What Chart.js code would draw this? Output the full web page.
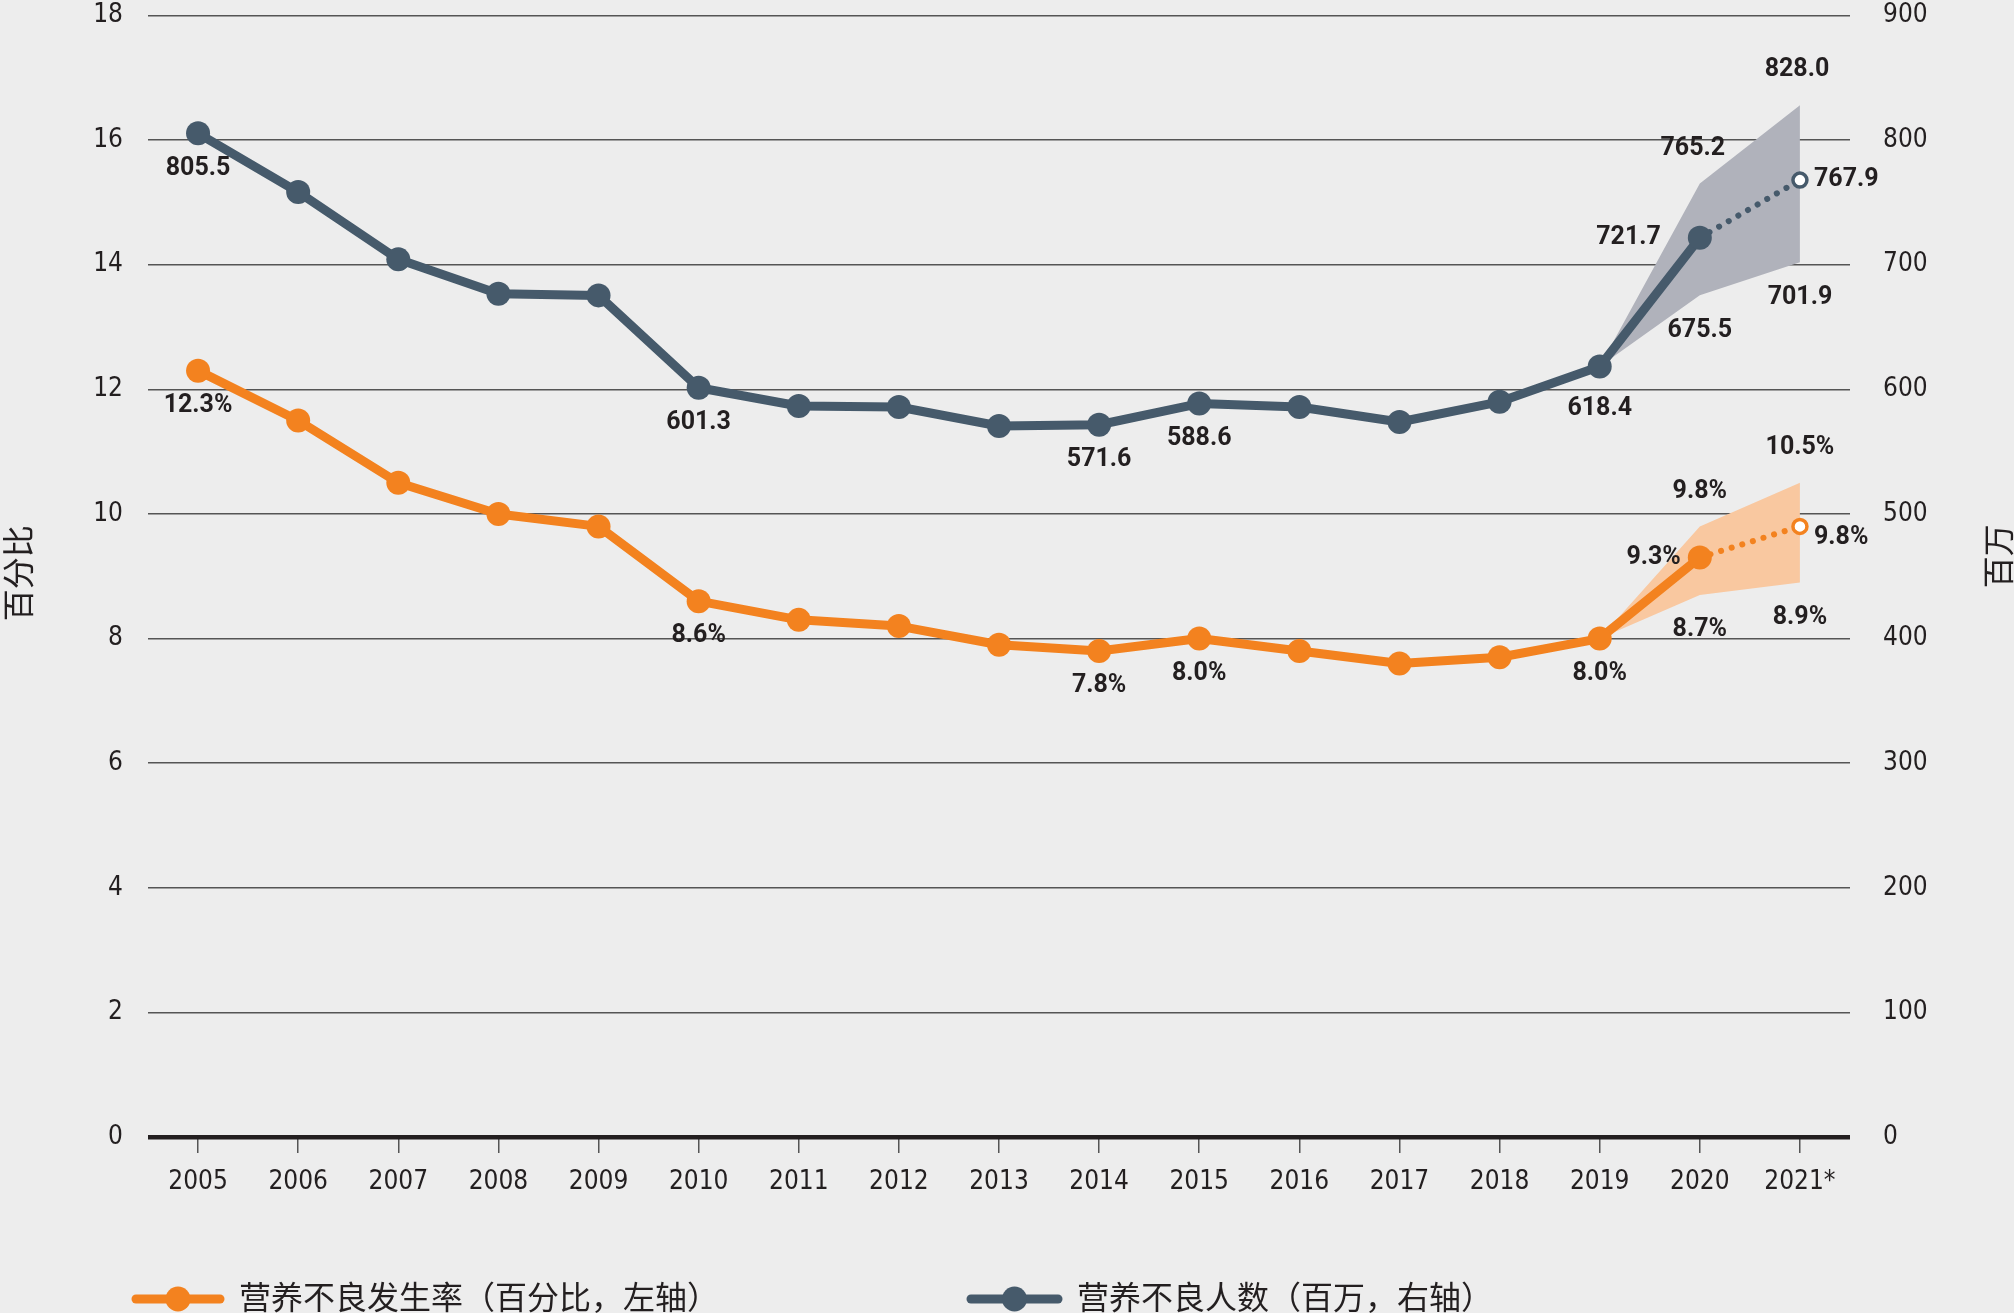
<!DOCTYPE html>
<html lang="zh">
<head>
<meta charset="utf-8">
<title>营养不良发生率与人数</title>
<script src="https://cdn.jsdelivr.net/npm/chart.js@4.4.1/dist/chart.umd.min.js"></script>
<style>
    html, body { margin: 0; padding: 0; background: #ededed; }
    #wrap { position: relative; width: 2014px; height: 1313px; }
</style>
</head>
<body>
<div id="wrap"><canvas id="hungerChart"></canvas></div>
<script>
// Years on the x axis
const years = ['2005', '2006', '2007', '2008', '2009', '2010', '2011', '2012', '2013',
    '2014', '2015', '2016', '2017', '2018', '2019', '2020', '2021*'];

// Prevalence of undernourishment (%), left axis
const rateValues = [12.3, 11.5, 10.5, 10.0, 9.8, 8.6, 8.3, 8.2, 7.9, 7.8, 8.0, 7.8, 7.6, 7.7, 8.0, 9.3, 9.8];

// Number of undernourished people (millions), right axis
const peopleValues = [805.5, 758.3, 704.3, 676.7, 675.4, 601.3, 586.6, 585.8, 570.6, 571.6, 588.6, 585.8, 573.8, 590.0, 618.4, 721.7, 767.9];

// Uncertainty ranges for 2019, 2020, 2021
const rateHigh = [8.0, 9.8, 10.5];
const rateLow = [8.0, 8.7, 8.9];
const peopleHigh = [618.4, 765.2, 828.0];
const peopleLow = [618.4, 675.5, 701.9];

// Axis ranges
const rateMax = 18, rateStep = 2;
const peopleMax = 900, peopleStep = 100;

const legendNames = ['营养不良发生率（百分比，左轴）', '营养不良人数（百万，右轴）'];
const axisTitles = ['百分比', '百万'];

const ORANGE = '#f3821f';
const SLATE = '#465a6b';
const ORANGE_BAND = '#f9c8a0';
const SLATE_BAND = '#b0b2bb';
const INK = '#231f20';

const tickFont = '"Liberation Sans Narrow", "DejaVu Sans Condensed", Roboto, sans-serif';
const labelFont = 'bold 25px Roboto, "Liberation Sans", sans-serif';
const cjkFont = '32px "Noto Sans CJK SC", sans-serif';

// put the range values at the end of a full-length series
function bandSeries(values) {
    const out = years.map(function () { return null; });
    for (let i = 0; i < values.length; i++) {
        out[years.length - values.length + i] = values[i];
    }
    return out;
}

const last = years.length - 1;

function lineDataset(label, data, color, axis) {
    return {
        label: label,
        data: data,
        yAxisID: axis,
        borderColor: color,
        borderWidth: 9,
        borderCapStyle: 'round',
        borderJoinStyle: 'round',
        tension: 0,
        fill: false,
        pointRadius: function (ctx) { return ctx.dataIndex === last ? 7 : 12; },
        pointBackgroundColor: function (ctx) { return ctx.dataIndex === last ? '#ffffff' : color; },
        pointBorderColor: color,
        pointBorderWidth: function (ctx) { return ctx.dataIndex === last ? 3.5 : 0; },
        pointHoverRadius: 12,
        segment: {
            borderDash: function (ctx) { return ctx.p1DataIndex === last ? [0.1, 11] : undefined; },
            borderWidth: function (ctx) { return ctx.p1DataIndex === last ? 6 : undefined; }
        },
        order: 0
    };
}

function bandDataset(data, color, axis, fillTo) {
    return {
        data: data,
        yAxisID: axis,
        backgroundColor: color,
        borderWidth: 0,
        pointRadius: 0,
        pointHoverRadius: 0,
        tension: 0,
        spanGaps: false,
        fill: fillTo,
        order: 5
    };
}

// Which points carry a value label and where it sits
const rateLabels = [
    { i: 0, pos: 'below' }, { i: 5, pos: 'below' }, { i: 9, pos: 'below' },
    { i: 10, pos: 'below' }, { i: 14, pos: 'below' },
    { i: 15, pos: 'left', gap: 19 }, { i: 16, pos: 'right', gap: 14, dy: 11 }
];
const peopleLabels = [
    { i: 0, pos: 'below' }, { i: 5, pos: 'below' }, { i: 9, pos: 'below' },
    { i: 10, pos: 'below' }, { i: 14, pos: 'below', dy: 7 },
    { i: 15, pos: 'left', gap: 39 }, { i: 16, pos: 'right', gap: 14 }
];

function fmtRate(v) { return v.toFixed(1) + '%'; }
function fmtPeople(v) { return v.toFixed(1); }

function drawLabel(ctx, pt, text, spec) {
    const dx = spec.dx || 0, dy = spec.dy || 0, gap = spec.gap || 0;
    let x = pt.x + dx, y = pt.y + dy;
    ctx.textAlign = 'center';
    if (spec.pos === 'below') y += 35;
    if (spec.pos === 'above') y -= 35;
    if (spec.pos === 'left') { ctx.textAlign = 'right'; x -= gap; }
    if (spec.pos === 'right') { ctx.textAlign = 'left'; x += gap; }
    ctx.fillText(text, x, y);
}

const valueLabels = {
    id: 'valueLabels',
    afterDatasetsDraw: function (chart) {
        const ctx = chart.ctx;
        ctx.save();
        ctx.font = labelFont;
        ctx.fillStyle = INK;
        ctx.textBaseline = 'middle';

        const rateMeta = chart.getDatasetMeta(0).data;
        const peopleMeta = chart.getDatasetMeta(1).data;
        rateLabels.forEach(function (s) { drawLabel(ctx, rateMeta[s.i], fmtRate(rateValues[s.i]), s); });
        peopleLabels.forEach(function (s) { drawLabel(ctx, peopleMeta[s.i], fmtPeople(peopleValues[s.i]), s); });

        // range labels for 2020 and 2021
        [last - 1, last].forEach(function (i, k) {
            const j = k + 1;
            drawLabel(ctx, chart.getDatasetMeta(2).data[i], fmtRate(rateHigh[j]), { pos: 'above' });
            drawLabel(ctx, chart.getDatasetMeta(3).data[i], fmtRate(rateLow[j]), { pos: 'below' });
            drawLabel(ctx, chart.getDatasetMeta(4).data[i], fmtPeople(peopleHigh[j]), { pos: 'above', dx: k === 0 ? -7 : -3 });
            drawLabel(ctx, chart.getDatasetMeta(5).data[i], fmtPeople(peopleLow[j]), { pos: 'below' });
        });
        ctx.restore();
    }
};

// Rotated axis titles (both read bottom to top) and the legend row
const decorations = {
    id: 'decorations',
    afterDraw: function (chart) {
        const ctx = chart.ctx;
        const area = chart.chartArea;
        ctx.save();
        ctx.font = cjkFont;
        ctx.fillStyle = INK;
        ctx.textAlign = 'center';
        ctx.textBaseline = 'middle';

        ctx.save();
        ctx.translate(18, (area.top + area.bottom) / 2 - 3);
        ctx.rotate(-Math.PI / 2);
        ctx.fillText(axisTitles[0], 0, 0);
        ctx.restore();

        ctx.save();
        ctx.translate(1998, (area.top + area.bottom) / 2 - 20);
        ctx.rotate(-Math.PI / 2);
        ctx.fillText(axisTitles[1], 0, 0);
        ctx.restore();

        // legend
        const items = [
            { x0: 136, x1: 220, text: legendNames[0], color: ORANGE },
            { x0: 971, x1: 1058, text: legendNames[1], color: SLATE }
        ];
        const ly = 1299;
        items.forEach(function (it) {
            ctx.strokeStyle = it.color;
            ctx.lineWidth = 9;
            ctx.lineCap = 'round';
            ctx.beginPath();
            ctx.moveTo(it.x0, ly);
            ctx.lineTo(it.x1, ly);
            ctx.stroke();
            ctx.fillStyle = it.color;
            ctx.beginPath();
            ctx.arc((it.x0 + it.x1) / 2, ly, 12.5, 0, Math.PI * 2);
            ctx.fill();
            ctx.fillStyle = INK;
            ctx.textAlign = 'left';
            ctx.fillText(it.text, it.x1 + 19, ly - 2);
        });
        ctx.restore();
    }
};

// keep the plot box where the reference has it
function noScalePadding(scale) {
    scale.paddingTop = 0;
    scale.paddingBottom = 0;
    scale.paddingLeft = 0;
    scale.paddingRight = 0;
}

const ctx = document.getElementById('hungerChart').getContext('2d');
const hungerChart = new Chart(ctx, {
    type: 'line',
    data: {
        labels: years,
        datasets: [
            lineDataset(legendNames[0], rateValues, ORANGE, 'y'),
            lineDataset(legendNames[1], peopleValues, SLATE, 'y1'),
            bandDataset(bandSeries(rateHigh), ORANGE_BAND, 'y', '+1'),
            bandDataset(bandSeries(rateLow), ORANGE_BAND, 'y', false),
            bandDataset(bandSeries(peopleHigh), SLATE_BAND, 'y1', '+1'),
            bandDataset(bandSeries(peopleLow), SLATE_BAND, 'y1', false)
        ]
    },
    options: {
        responsive: true,
        maintainAspectRatio: false,
        animation: false,
        layout: { padding: { top: 15, left: 0, right: 0, bottom: 0 } },
        plugins: {
            legend: { display: false },
            tooltip: { enabled: false }
        },
        scales: {
            x: {
                type: 'category',
                offset: true,
                border: { display: false },
                grid: {
                    display: true,
                    drawOnChartArea: false,
                    drawTicks: true,
                    tickLength: 16,
                    color: '#555555',
                    lineWidth: 1.5,
                    offset: false
                },
                ticks: {
                    color: INK,
                    font: { family: tickFont, size: 26 },
                    padding: 14,
                    maxRotation: 0,
                    autoSkip: false
                },
                afterFit: function (scale) { scale.height = 176; noScalePadding(scale); }
            },
            y: {
                position: 'left',
                min: 0,
                max: rateMax,
                border: { display: false },
                grid: {
                    drawTicks: false,
                    color: function (c) { return c.tick && c.tick.value === 0 ? INK : '#555555'; },
                    lineWidth: function (c) { return c.tick && c.tick.value === 0 ? 4.5 : 1.5; }
                },
                ticks: {
                    stepSize: rateStep,
                    color: INK,
                    font: { family: tickFont, size: 26 },
                    padding: 25
                },
                afterFit: function (scale) { scale.width = 148; noScalePadding(scale); }
            },
            y1: {
                position: 'right',
                min: 0,
                max: peopleMax,
                border: { display: false },
                grid: { drawOnChartArea: false, drawTicks: false },
                ticks: {
                    stepSize: peopleStep,
                    color: INK,
                    font: { family: tickFont, size: 26 },
                    padding: 33
                },
                afterFit: function (scale) { scale.width = 164; noScalePadding(scale); }
            }
        }
    },
    plugins: [valueLabels, decorations]
});
</script>
</body>
</html>
